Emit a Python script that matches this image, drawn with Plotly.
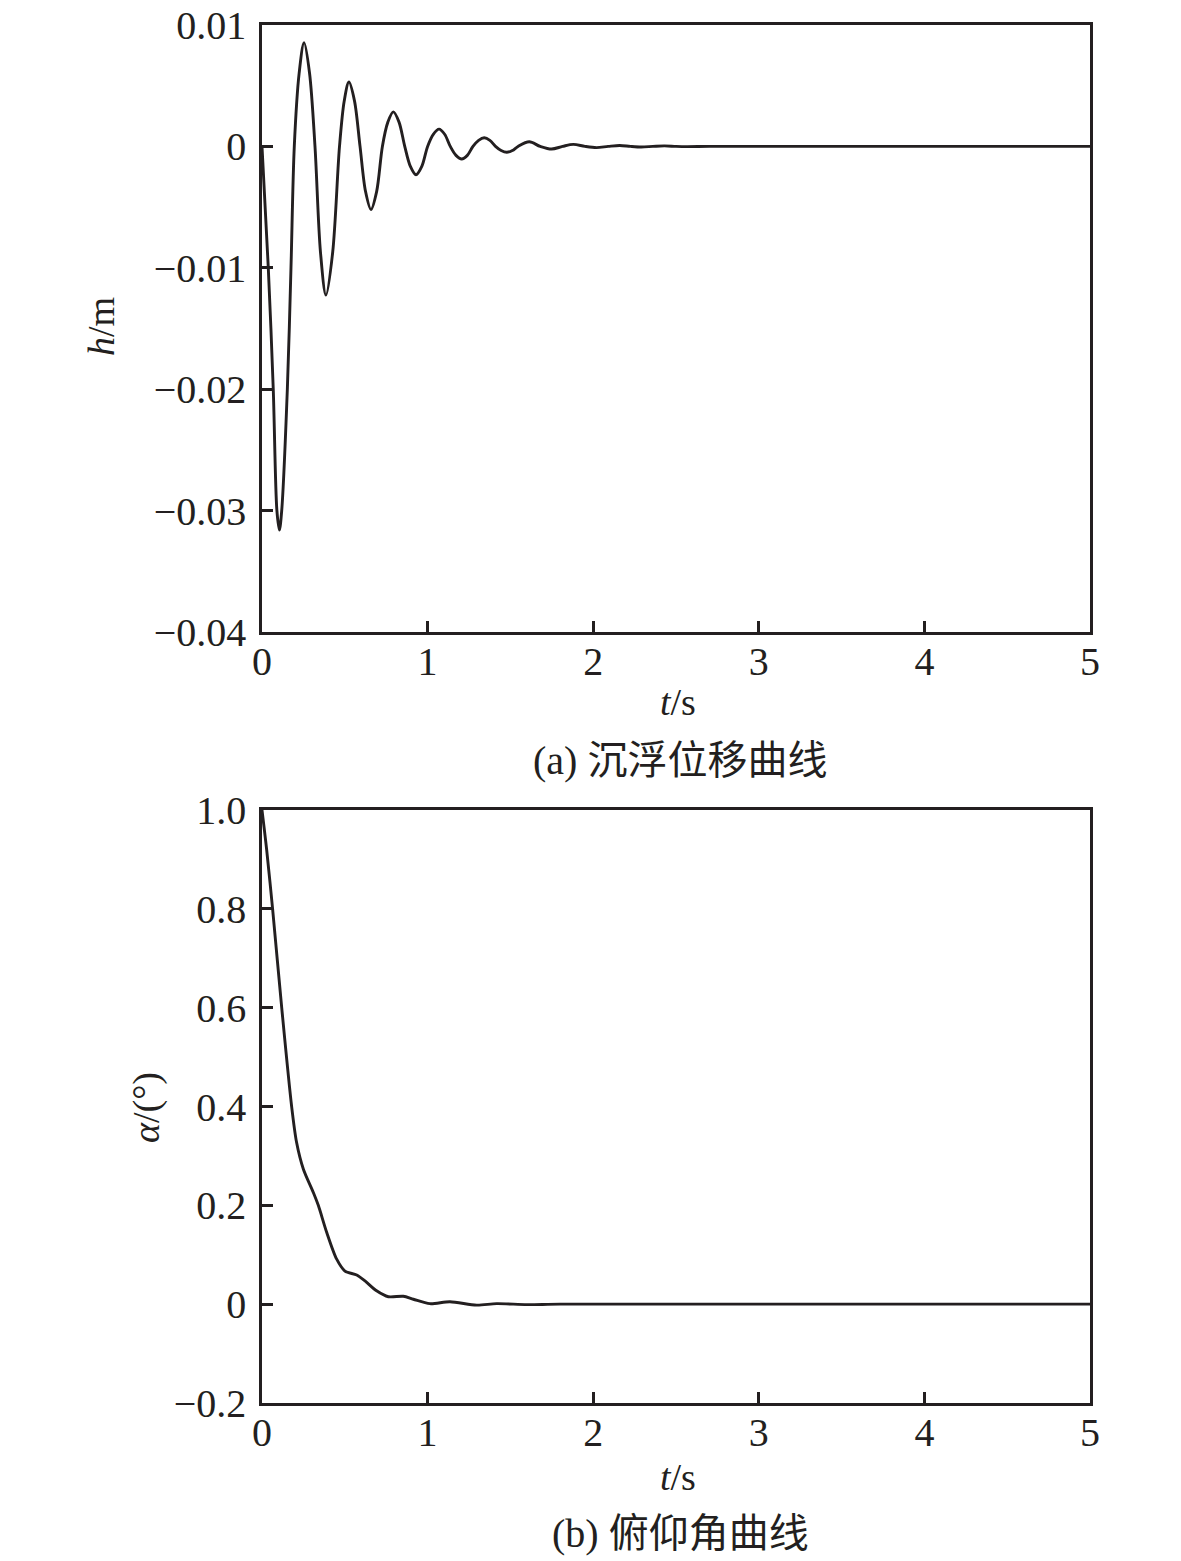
import plotly.graph_objects as go
from plotly.subplots import make_subplots

# ---- data ----
t_heave = [0, 0.038, 0.068, 0.09, 0.105, 0.119, 0.153, 0.175, 0.195,
           0.2245, 0.254, 0.287, 0.32, 0.353, 0.386, 0.427, 0.468, 0.4965, 0.525, 0.5585,
           0.592, 0.625, 0.658, 0.6925, 0.727, 0.76, 0.793, 0.8275, 0.862, 0.896, 0.93,
           0.965, 1.0, 1.0345, 1.069, 1.103, 1.137, 1.1715, 1.206, 1.24, 1.274, 1.308,
           1.342, 1.376, 1.41, 1.444, 1.478, 1.512, 1.546, 1.614, 1.68, 1.749, 1.815,
           1.88, 1.95, 2.02, 2.09, 2.16, 2.225, 2.29, 2.36, 2.43, 2.5, 2.565, 2.7, 3.0, 5.0]
h_heave = [0, -0.01, -0.02, -0.03, -0.0316, -0.03, -0.02, -0.01, 0,
           0.00605, 0.00855, 0.00605, 0, -0.0087, -0.01225, -0.0087, 0, 0.00375, 0.0053, 0.00375,
           0, -0.0037, -0.0052, -0.0037, 0, 0.002, 0.00284, 0.002, 0, -0.00165, -0.00234,
           -0.00165, 0, 0.001, 0.00142, 0.001, 0, -0.00074, -0.00104, -0.00074, 0, 0.0005,
           0.00071, 0.0005, 0, -0.00034, -0.00048, -0.00034, 0, 0.00038, 0, -0.00022, 0,
           0.00017, 0, -0.0001, 0, 0.00008, 0, -0.00005, 0, 0.00004, 0, -0.00002, 0, 0, 0]

t_pitch = [0, 0.028, 0.064, 0.119, 0.179, 0.209, 0.25, 0.31, 0.34, 0.391, 0.451, 0.501,
           0.572, 0.622, 0.692, 0.763, 0.853, 0.914, 1.014, 1.135, 1.296, 1.417, 1.6, 1.8, 5.0]
a_pitch = [1.0, 0.92, 0.80, 0.60, 0.40, 0.327, 0.273, 0.226, 0.20, 0.145, 0.091, 0.067,
           0.059, 0.047, 0.027, 0.015, 0.016, 0.01, 0.001, 0.005, -0.002, 0.001, -0.001, 0.0, 0.0]

x_ticks = [0, 1, 2, 3, 4, 5]
h_tickvals = [0.01, 0, -0.01, -0.02, -0.03, -0.04]
h_ticktext = ["0.01", "0", "\u22120.01", "\u22120.02", "\u22120.03", "\u22120.04"]
a_tickvals = [1.0, 0.8, 0.6, 0.4, 0.2, 0, -0.2]
a_ticktext = ["1.0", "0.8", "0.6", "0.4", "0.2", "0", "\u22120.2"]

cap_a = "(a) 沉浮位移曲线"
cap_b = "(b) 俯仰角曲线"

# ---- layout geometry ----
W, H = 1181, 1561
L, R, T, B = 262, 1090, 25, 1403
INK = "#231f20"
FONT = "Liberation Serif, Times New Roman, Noto Sans CJK SC, serif"

fig = make_subplots(rows=2, cols=1, vertical_spacing=0)
fig.add_trace(go.Scatter(x=t_heave, y=h_heave, mode="lines",
                         line=dict(color=INK, width=2.9, shape="spline", smoothing=0.9),
                         showlegend=False), row=1, col=1)
fig.add_trace(go.Scatter(x=t_pitch, y=a_pitch, mode="lines",
                         line=dict(color=INK, width=2.9, shape="spline", smoothing=0.8),
                         showlegend=False), row=2, col=1)

ph = B - T
top_dom = [1 - (632 - T) / ph, 1]
bot_dom = [0, 1 - (810 - T) / ph]

axis_common = dict(showgrid=False, zeroline=False, showline=True, linecolor=INK,
                   linewidth=2.6, mirror=True, ticks="inside", ticklen=11,
                   tickwidth=2.6, tickcolor=INK, automargin=False,
                   ticklabeloverflow="allow",
                   tickfont=dict(family=FONT, size=40, color=INK))

fig.update_xaxes(**axis_common, range=[0, 5], tickvals=x_ticks, ticklabelstandoff=-8)
fig.update_yaxes(**axis_common, ticklabelstandoff=5)
fig.update_yaxes(range=[-0.04, 0.01], tickvals=h_tickvals, ticktext=h_ticktext,
                 domain=top_dom, row=1, col=1)
fig.update_yaxes(range=[-0.2, 1.0], tickvals=a_tickvals, ticktext=a_ticktext,
                 domain=bot_dom, row=2, col=1)
fig.update_xaxes(domain=[0, 1])


def px(x):
    return (x - L) / (R - L)


def py(y):
    return (B - y) / (B - T)


annos = [
    dict(text="<i>t</i>/s", x=px(678), y=py(702), size=38),
    dict(text=cap_a, x=px(680), y=py(760), size=40),
    dict(text="<i>t</i>/s", x=px(678), y=py(1477), size=38),
    dict(text=cap_b, x=px(680), y=py(1533), size=40),
]
for a in annos:
    fig.add_annotation(text=a["text"], x=a["x"], y=a["y"], xref="paper", yref="paper",
                       showarrow=False, xanchor="center", yanchor="middle",
                       font=dict(family=FONT, size=a["size"], color=INK))

fig.add_annotation(text="<i>h</i>/m", x=px(101), y=py(327), xref="paper", yref="paper",
                   showarrow=False, textangle=-90, xanchor="center", yanchor="middle",
                   font=dict(family=FONT, size=38, color=INK))
fig.add_annotation(text="<i>α</i>/(°)", x=px(146), y=py(1108), xref="paper", yref="paper",
                   showarrow=False, textangle=-90, xanchor="center", yanchor="middle",
                   font=dict(family=FONT, size=38, color=INK))

fig.update_layout(width=W, height=H, margin=dict(l=L, r=W - R, t=T, b=H - B, autoexpand=False),
                  paper_bgcolor="white", plot_bgcolor="white")

fig.write_html("out.html", config={"displayModeBar": False},
               post_script="document.body.style.margin='0';document.body.style.overflow='hidden';")
